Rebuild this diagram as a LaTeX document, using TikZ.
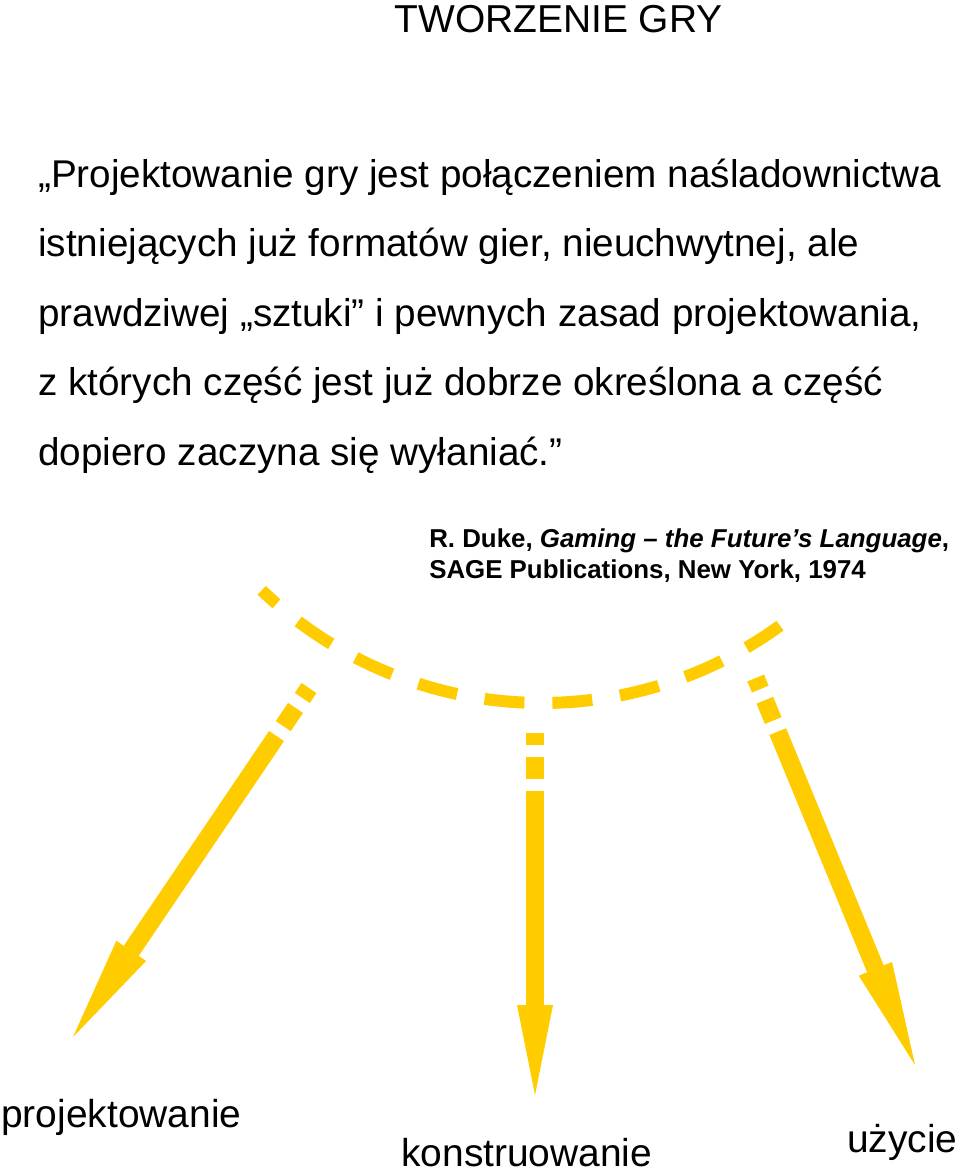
\documentclass[tikz,border=0pt]{standalone}
\usepackage{fontspec}
\setmainfont{Liberation Sans}
\usetikzlibrary{arrows.meta,calc}
\definecolor{gold}{RGB}{255,204,0}
\begin{document}
\begin{tikzpicture}[x=0.75pt,y=0.75pt,
  body/.style={inner sep=0pt, anchor=base west, font=\fontsize{29pt}{33pt}\selectfont},
  big/.style={inner sep=0pt, font=\fontsize{29.2pt}{33pt}\selectfont},
  cite/.style={inner sep=0pt, anchor=base west, font=\fontsize{19.4pt}{23pt}\selectfont\bfseries},
  apart/.style={draw=gold, line width=13.5pt},
  diaghead/.style={-{Triangle[length=78pt,width=27pt,line width=0pt]}},
  straighthead/.style={-{Triangle[length=67.5pt,width=27pt,line width=0pt]}},
  arcline/.style={draw=gold, line width=9pt, dash pattern=on 30pt off 21pt, dash phase=15pt}
]
\fill[white] (0,0) rectangle (960,-1171);
\useasboundingbox (0,0) rectangle (960,-1171);

% title
\node[big, anchor=base] (title) at (558.5,-32) {TWORZENIE GRY};

% quotation
\node[body] (l1) at (38,-187) {„Projektowanie gry jest połączeniem naśladownictwa};
\node[body] (l2) at (38,-256) {istniejących już formatów gier, nieuchwytnej, ale};
\node[body] (l3) at (38,-326) {prawdziwej „sztuki” i pewnych zasad projektowania,};
\node[body] (l4) at (38,-395) {z których część jest już dobrze określona a część};
\node[body] (l5) at (38,-465) {dopiero zaczyna się wyłaniać.”};

% citation
\node[cite] (c1) at (429,-547) {R. Duke, \textit{Gaming – the Future’s Language}, };
\node[cite] (c2) at (429,-578) {SAGE Publications, New York, 1974};

% dashed arc
\coordinate (arcc) at (542,-298);
\draw[arcline] ($(arcc)+(226.2:405)$) arc[start angle=226.2, end angle=306.3, radius=405];

% arrows
\coordinate (LA) at (309,-688);
\coordinate (LT) at (73,-1037);
\coordinate (CA) at (535,-733);
\coordinate (CT) at (535,-1095);
\coordinate (RA) at (755.7,-678);
\coordinate (RT) at (915,-1065);

\draw[apart] (LA) -- ($(LA)!9pt!(LT)$);
\draw[apart] ($(LA)!18pt!(LT)$) -- ($(LA)!34.5pt!(LT)$);
\draw[apart, diaghead] ($(LA)!43.5pt!(LT)$) -- (LT);

\draw[apart] (CA) -- ($(CA)!9pt!(CT)$);
\draw[apart] ($(CA)!18pt!(CT)$) -- ($(CA)!34.5pt!(CT)$);
\draw[apart, straighthead] ($(CA)!43.5pt!(CT)$) -- (CT);

\draw[apart] (RA) -- ($(RA)!9pt!(RT)$);
\draw[apart] ($(RA)!18pt!(RT)$) -- ($(RA)!34.5pt!(RT)$);
\draw[apart, diaghead] ($(RA)!43.5pt!(RT)$) -- (RT);

% labels
\node[big, anchor=base west] (lab1) at (1,-1127) {projektowanie};
\node[big, anchor=base west, text depth=0pt] (lab2) at (401,-1166) {konstruowanie};
\node[big, anchor=base west] (lab3) at (847,-1152) {użycie};
\end{tikzpicture}
\end{document}
